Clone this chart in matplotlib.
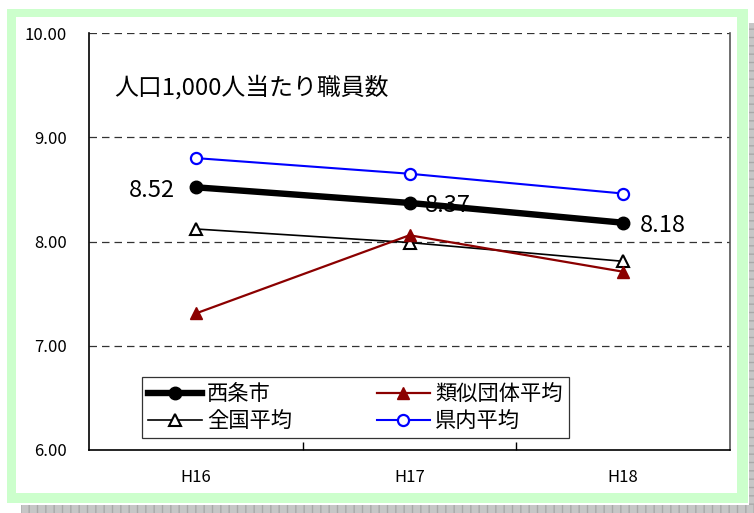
import matplotlib
matplotlib.use("Agg")
import matplotlib.pyplot as plt
from matplotlib.patches import Rectangle
from matplotlib.lines import Line2D

plt.rcParams['font.family'] = ['Noto Sans CJK JP', 'DejaVu Sans']

years = ["H16", "H17", "H18"]
saijo = [8.52, 8.37, 8.18]
ruiji = [7.31, 8.06, 7.71]
zenkoku = [8.12, 7.99, 7.81]
kennai = [8.80, 8.65, 8.46]
y_ticks = [6.0, 7.0, 8.0, 9.0, 10.0]
title_text = "人口1,000人当たり職員数"

W, H = 754, 513
fig = plt.figure(figsize=(W / 100, H / 100), dpi=100)
fig.patch.set_facecolor("white")


def fig_rect(x0, y0, x1, y1, **kw):
    # rectangle given in pixel coordinates measured from the top-left corner
    r = Rectangle((x0 / W, 1 - y1 / H), (x1 - x0) / W, (y1 - y0) / H,
                  transform=fig.transFigure, **kw)
    fig.add_artist(r)
    return r


# drop shadow strips (right and bottom)
fig_rect(749, 23, 754, 513, facecolor="#c6c6c6", edgecolor="#a8a8a8",
         hatch="--", linewidth=0, zorder=0)
fig_rect(21, 505, 754, 513, facecolor="#c6c6c6", edgecolor="#a8a8a8",
         hatch="||", linewidth=0, zorder=0)
# light green frame and white panel
fig_rect(7, 9, 748, 503, facecolor="#ccffcc", edgecolor="none", zorder=0)
fig_rect(16, 17, 737, 493, facecolor="white", edgecolor="none", zorder=0)

ax_l, ax_r, ax_t, ax_b = 89, 730, 33, 450
ax = fig.add_axes([ax_l / W, 1 - ax_b / H, (ax_r - ax_l) / W, (ax_b - ax_t) / H])
ax.set_facecolor("none")

x = list(range(len(years)))
ax.plot(x, saijo, color="black", lw=4.6, marker="o", ms=9, zorder=5,
        solid_capstyle="round")
ax.plot(x, ruiji, color="#8b0000", lw=1.6, marker="^", ms=9,
        markerfacecolor="#8b0000", markeredgecolor="#8b0000", zorder=4)
ax.plot(x, zenkoku, color="black", lw=1.2, marker="^", ms=8,
        markerfacecolor="white", markeredgecolor="black", markeredgewidth=1.5, zorder=3)
ax.plot(x, kennai, color="#0000ff", lw=1.5, marker="o", ms=8,
        markerfacecolor="white", markeredgecolor="#0000ff", markeredgewidth=1.6, zorder=3)

ax.annotate(f"{saijo[0]:.2f}", (0, saijo[0]), xytext=(-15, -2), textcoords="offset points",
            ha="right", va="center", fontsize=17, zorder=6)
ax.annotate(f"{saijo[1]:.2f}", (1, saijo[1]), xytext=(11, -2), textcoords="offset points",
            ha="left", va="center", fontsize=17, zorder=6)
ax.annotate(f"{saijo[2]:.2f}", (2, saijo[2]), xytext=(12, -2), textcoords="offset points",
            ha="left", va="center", fontsize=17, zorder=6)

ax.text(0.04, 0.87, title_text, transform=ax.transAxes, fontsize=17.2,
        ha="left", va="center")

ax.set_xlim(-0.5, len(years) - 0.5)
ax.set_ylim(6, 10)
ax.set_yticks(y_ticks)
ax.set_yticklabels([f"{v:.2f}" for v in y_ticks], fontsize=12)
ax.set_xticks(x)
ax.set_xticklabels(years, fontsize=12)
ax.set_xticks([0.5, 1.5], minor=True)
ax.tick_params(axis="x", which="major", length=0, pad=14)
ax.tick_params(axis="x", which="minor", direction="in", length=6, width=1)
ax.tick_params(axis="y", length=0, pad=16)

for v in [7.0, 8.0, 9.0, 10.0]:
    ax.axhline(v, color="#333333", lw=0.9, ls=(0, (6, 4)), zorder=1)

ax.spines["top"].set_visible(False)
ax.spines["left"].set_linewidth(1.2)
ax.spines["bottom"].set_linewidth(1.2)
ax.spines["right"].set_color("#555555")
ax.spines["right"].set_linewidth(1.2)

handles = [
    Line2D([], [], color="black", lw=4.6, marker="o", ms=9),
    Line2D([], [], color="black", lw=1.2, marker="^", ms=8, markerfacecolor="white",
           markeredgewidth=1.5),
    Line2D([], [], color="#8b0000", lw=1.6, marker="^", ms=9, markerfacecolor="#8b0000"),
    Line2D([], [], color="#0000ff", lw=1.5, marker="o", ms=8, markerfacecolor="white",
           markeredgewidth=1.6),
]
labels = ["西条市", "全国平均", "類似団体平均", "県内平均"]
leg = ax.legend(handles, labels, ncol=2, loc="upper left",
                bbox_to_anchor=((142 - ax_l) / (ax_r - ax_l), (ax_b - 377) / (ax_b - ax_t)),
                fontsize=15.3, frameon=True, fancybox=False, handlelength=2.5,
                columnspacing=4.0, handletextpad=0.25, labelspacing=0.22,
                borderpad=0.3, borderaxespad=0)
leg.get_frame().set_edgecolor("black")
leg.get_frame().set_linewidth(0.9)

fig.savefig("out.png", dpi=100)
